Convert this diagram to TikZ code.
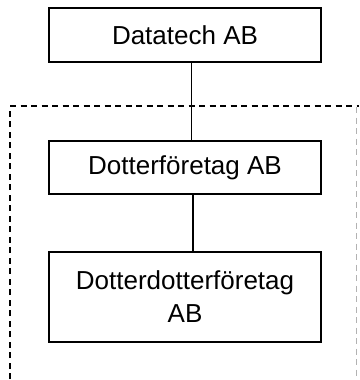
\documentclass[tikz,border=0pt]{standalone}
\usepackage{fontspec}
\setmainfont{Liberation Sans}
\tikzset{firma/.style={draw,line width=1.5pt,minimum width=272pt,align=center,
  font=\fontsize{26}{33}\selectfont},
  grupp/.style={line width=1.5pt,dash pattern=on 6pt off 4.5pt}}

\begin{document}
\begin{tikzpicture}[x=1pt,y=-1pt]
   \useasboundingbox (0,0) rectangle (359,380);
   \draw[grupp] (10,400) -- (10,106) -- (359,106);
   \draw[grupp,line width=0.8pt,black!30] (356.5,107) -- (356.5,400);
   \node[firma,minimum height=54pt] (moder)  at (185,35)    {Datatech AB};
   \node[firma,minimum height=53pt] (dotter) at (185,167.5) {Dotterföretag AB};
   \node[firma,minimum height=90pt] (ddotter) at (185,297)  {Dotterdotterföretag\\AB};
   \draw[line width=1.5pt] ([xshift=6.5pt]moder.south)  -- ([xshift=6.5pt]dotter.north);
   \draw[line width=1.5pt] ([xshift=8pt]dotter.south) -- ([xshift=8pt]ddotter.north);
\end{tikzpicture}
\end{document}
